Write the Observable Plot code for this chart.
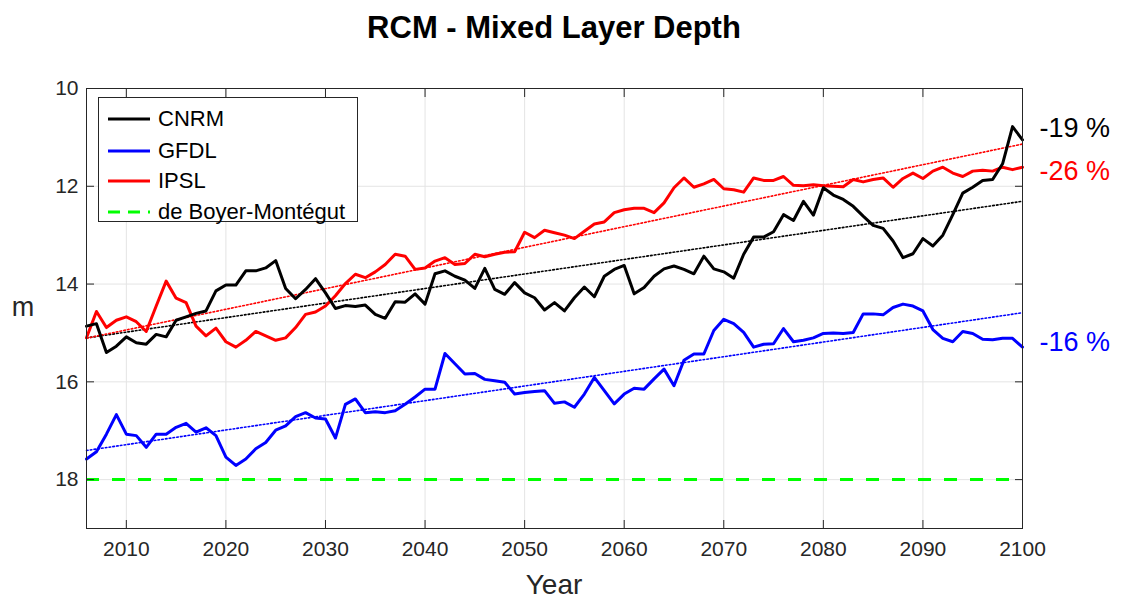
<!DOCTYPE html>
<html><head><meta charset="utf-8">
<script src="https://cdn.jsdelivr.net/npm/d3@7"></script>
<script src="https://cdn.jsdelivr.net/npm/@observablehq/plot@0.6"></script>
<style>
body{margin:0;background:#fff;font-family:"Liberation Sans",Arial,Helvetica,sans-serif;}
#wrap{position:relative;width:1121px;height:606px;overflow:hidden;}
#title{position:absolute;left:0;top:0;width:1108px;height:56px;text-align:center;font-weight:bold;font-size:31px;line-height:56px;color:#000;}
#chart{position:absolute;left:0;top:55px;}
#legend{position:absolute;left:98px;top:97px;width:260px;height:125px;border:1px solid #262626;background:#fff;box-sizing:border-box;}
.lrow{position:absolute;left:0;height:30px;width:258px;}
.lrow svg{position:absolute;left:9px;top:0;}
.lrow span{position:absolute;left:59px;top:0;line-height:30px;font-size:22px;color:#000;white-space:nowrap;}
#xlabel{position:absolute;left:0;width:1108px;top:570px;text-align:center;font-size:28px;color:#262626;line-height:30px;}
#ylabel{position:absolute;left:8px;top:292px;width:30px;text-align:center;font-size:27px;color:#262626;line-height:30px;}
</style></head>
<body>
<div id="wrap">
  <div id="title"></div>
  <div id="chart"></div>
  <div id="legend"></div>
  <div id="xlabel"></div>
  <div id="ylabel"></div>
</div>
<script>
const titleText = "RCM - Mixed Layer Depth";
const xLabel = "Year";
const yLabel = "m";
const years = d3.range(2006, 2101);
const xTicks = [2010, 2020, 2030, 2040, 2050, 2060, 2070, 2080, 2090, 2100];
const yTicks = [10, 12, 14, 16, 18];

const cnrm = [14.86,14.81,15.40,15.27,15.08,15.20,15.23,15.03,15.08,14.74,
14.67,14.60,14.55,14.14,14.02,14.02,13.73,13.73,13.67,13.52,
14.09,14.30,14.11,13.89,14.18,14.50,14.44,14.46,14.43,14.62,
14.70,14.36,14.37,14.20,14.41,13.79,13.73,13.84,13.92,14.09,
13.68,14.11,14.21,13.97,14.18,14.28,14.53,14.38,14.55,14.28,
14.06,14.26,13.84,13.70,13.62,14.20,14.07,13.84,13.69,13.63,
13.70,13.79,13.43,13.69,13.75,13.88,13.39,13.04,13.04,12.93,
12.58,12.70,12.31,12.59,12.03,12.18,12.27,12.41,12.61,12.80,
12.86,13.12,13.46,13.38,13.07,13.22,13.00,12.58,12.14,12.02,
11.88,11.86,11.54,10.78,11.05];

const gfdl = [17.58,17.43,17.07,16.67,17.07,17.10,17.34,17.07,17.07,16.93,
16.85,17.03,16.94,17.10,17.54,17.71,17.58,17.37,17.24,16.99,
16.90,16.71,16.63,16.74,16.76,17.15,16.46,16.35,16.63,16.61,
16.63,16.59,16.46,16.31,16.15,16.15,15.42,15.63,15.84,15.83,
15.95,15.98,16.01,16.25,16.22,16.20,16.18,16.44,16.41,16.52,
16.25,15.91,16.18,16.45,16.25,16.13,16.15,15.94,15.74,16.08,
15.56,15.43,15.43,14.95,14.72,14.81,14.99,15.29,15.23,15.22,
14.91,15.18,15.15,15.10,15.01,15.00,15.01,14.99,14.61,14.61,
14.63,14.48,14.41,14.45,14.55,14.93,15.11,15.18,14.97,15.01,
15.13,15.14,15.11,15.11,15.29];

const ipsl = [15.10,14.56,14.89,14.74,14.67,14.77,14.97,14.45,13.94,14.29,
14.38,14.86,15.06,14.90,15.18,15.29,15.15,14.97,15.06,15.15,
15.10,14.89,14.62,14.57,14.45,14.24,13.99,13.80,13.87,13.75,
13.60,13.39,13.43,13.70,13.67,13.53,13.46,13.60,13.58,13.39,
13.44,13.39,13.35,13.34,12.94,13.05,12.90,12.95,13.00,13.07,
12.92,12.77,12.73,12.54,12.48,12.45,12.45,12.54,12.34,12.03,
11.83,12.02,11.95,11.86,12.05,12.07,12.12,11.83,11.88,11.88,
11.80,11.98,11.99,11.97,11.99,12.00,12.01,11.86,11.91,11.86,
11.83,12.02,11.84,11.73,11.84,11.69,11.61,11.73,11.80,11.69,
11.67,11.69,11.61,11.66,11.61];

const deBoyer = [18];
const seriesNames = ["CNRM", "GFDL", "IPSL", "de Boyer-Montégut"];
const seriesColors = ["#000000", "#0000ff", "#ff0000", "#00ff00"];
const trendLabels = ["-19 %", "-16 %", "-26 %"];

const toRows = (vals) => years.map((year, i) => ({year, value: vals[i]}));
const rowsC = toRows(cnrm), rowsG = toRows(gfdl), rowsI = toRows(ipsl);
const last = (rows) => [rows[rows.length - 1]];

document.getElementById("title").textContent = titleText;
document.getElementById("xlabel").textContent = xLabel;
document.getElementById("ylabel").textContent = yLabel;

const font = '"Liberation Sans", Arial, Helvetica, sans-serif';
const lineW = 3;
const trendStyle = {x: "year", y: "value", ci: 0, strokeWidth: 1.6, strokeDasharray: "1.6,2.2"};

const chart = Plot.plot({
  width: 1121, height: 551,
  marginTop: 33, marginBottom: 78, marginLeft: 86, marginRight: 99,
  style: {fontFamily: font, fontSize: "20px", color: "#262626", background: "white", overflow: "visible"},
  x: {domain: [2006, 2100], label: null},
  y: {domain: [10, 19], reverse: true, label: null},
  marks: [
    Plot.gridX(xTicks, {stroke: "#e4e4e4", strokeOpacity: 1}),
    Plot.gridY(yTicks, {stroke: "#e4e4e4", strokeOpacity: 1}),
    Plot.ruleY(deBoyer, {stroke: seriesColors[3], strokeWidth: 3, strokeDasharray: "13,13"}),
    Plot.linearRegressionY(rowsC, {...trendStyle, stroke: seriesColors[0]}),
    Plot.linearRegressionY(rowsG, {...trendStyle, stroke: seriesColors[1]}),
    Plot.linearRegressionY(rowsI, {...trendStyle, stroke: seriesColors[2]}),
    Plot.lineY(rowsG, {x: "year", y: "value", stroke: seriesColors[1], strokeWidth: lineW, strokeLinejoin: "round"}),
    Plot.lineY(rowsI, {x: "year", y: "value", stroke: seriesColors[2], strokeWidth: lineW, strokeLinejoin: "round"}),
    Plot.lineY(rowsC, {x: "year", y: "value", stroke: seriesColors[0], strokeWidth: lineW, strokeLinejoin: "round"}),
    Plot.frame({stroke: "#262626", strokeWidth: 1}),
    Plot.axisX(xTicks, {anchor: "bottom", tickSize: -8, tickPadding: 21, tickFormat: "d", stroke: "#262626", fill: "#262626", fontSize: 21}),
    Plot.axisX(xTicks, {anchor: "top", tickSize: -8, tickFormat: () => "", stroke: "#262626"}),
    Plot.axisY(yTicks, {anchor: "left", tickSize: -8, tickPadding: 16, stroke: "#262626", fill: "#262626", fontSize: 21}),
    Plot.axisY(yTicks, {anchor: "right", tickSize: -8, tickFormat: () => "", stroke: "#262626"}),
    Plot.text(last(rowsC), {x: "year", y: "value", text: () => trendLabels[0], fill: seriesColors[0], dx: 17, dy: -11, textAnchor: "start", fontSize: 27}),
    Plot.text(last(rowsG), {x: "year", y: "value", text: () => trendLabels[1], fill: seriesColors[1], dx: 17, dy: -5, textAnchor: "start", fontSize: 27}),
    Plot.text(last(rowsI), {x: "year", y: "value", text: () => trendLabels[2], fill: seriesColors[2], dx: 17, dy: 4, textAnchor: "start", fontSize: 27})
  ]
});
document.getElementById("chart").appendChild(chart);

// legend
const legend = d3.select("#legend");
const rowTops = [6, 38, 68, 99];
seriesNames.forEach((name, i) => {
  const row = legend.append("div").attr("class", "lrow").style("top", rowTops[i] + "px");
  const svg = row.append("svg").attr("width", 44).attr("height", 30);
  svg.append("line").attr("x1", 0).attr("x2", 42).attr("y1", 15).attr("y2", 15)
    .attr("stroke", seriesColors[i]).attr("stroke-width", 3)
    .attr("stroke-dasharray", i === 3 ? "12,8" : null);
  row.append("span").text(name);
});
</script>
</body></html>
